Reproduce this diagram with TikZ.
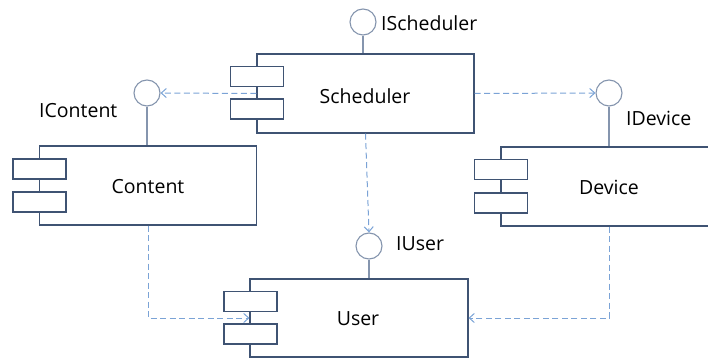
\documentclass[tikz,border=0pt]{standalone}
\usepackage{fontspec}
\setmainfont{Open Sans}
\usetikzlibrary{arrows.meta}
\definecolor{boxc}{HTML}{3F5373}
\definecolor{circc}{HTML}{8595AE}
\definecolor{dashc}{HTML}{7BA3D6}
\begin{document}
\begin{tikzpicture}[x=1pt,y=-1pt,
  comp/.style={draw=boxc,line width=1.1pt,fill=white,minimum width=217pt,minimum height=79pt,inner sep=0pt,font=\fontsize{19.5}{22}\selectfont},
  port/.style={draw=boxc,line width=1.1pt,fill=white,minimum width=53pt,minimum height=20pt,inner sep=0pt},
  iface/.style={draw=circc,line width=1.1pt,fill=white,circle,minimum size=26pt,inner sep=0pt},
  stem/.style={draw=circc,line width=1.3pt},
  lbl/.style={inner sep=0pt,anchor=west,font=\fontsize{19.5}{22}\selectfont},
  dep/.style={draw=dashc,line width=1pt,dash pattern=on 6pt off 3.5pt,-{Straight Barb[length=5pt,width=9pt]}}
]
\useasboundingbox (0,0) rectangle (708,358);
% components
\node[comp] (sch) at (365.5,93.5) {};
\node[comp] (con) at (148,185.5) {};
\node[comp] (dev) at (609.5,186.5) {};
\node[comp,minimum width=218pt,minimum height=78pt] (usr) at (359,318) {};
% interfaces
\node[iface] (isch) at (363,22) {};
\node[iface] (icon) at (147,93) {};
\node[iface] (idev) at (609,93) {};
\node[iface] (iusr) at (369,246) {};
\draw[stem] (isch.south) -- (isch.south |- sch.north);
\draw[stem] (icon.south) -- (icon.south |- con.north);
\draw[stem] (idev.south) -- (idev.south |- dev.north);
\draw[stem] (iusr.south) -- (iusr.south |- usr.north);
% labels
\node[lbl] (lsch) at (381,23) {IScheduler};
\node[lbl] (lcon) at (39,111) {IContent};
\node[lbl] (ldev) at (626,118) {IDevice};
\node[lbl] (lusr) at (396,244) {IUser};
% component names
\node[lbl,anchor=center] (tsch) at (365,96) {Scheduler};
\node[lbl,anchor=center] (tcon) at (148,187) {Content};
\node[lbl,anchor=center] (tdev) at (609,187) {Device};
\node[lbl,anchor=center] (tusr) at (358,319) {User};
% dependencies (behind ports)
\draw[dep] (sch.west) -- (icon.east);
\draw[dep] (sch.east) -- (idev.west);
\draw[dep] (sch.south) -- (iusr.north);
\draw[dep] (con.south) |- (usr.west);
\draw[dep] (dev.south) |- (usr.east);
% ports
\node[port] (sp1) at (257,76.5) {};
\node[port] (sp2) at (257,109) {};
\node[port] (cp1) at (39.5,169) {};
\node[port] (cp2) at (39.5,202) {};
\node[port] (dp1) at (501,169.5) {};
\node[port] (dp2) at (501,203) {};
\node[port] (up1) at (250.5,301.5) {};
\node[port] (up2) at (250.5,334) {};
\end{tikzpicture}
\end{document}
